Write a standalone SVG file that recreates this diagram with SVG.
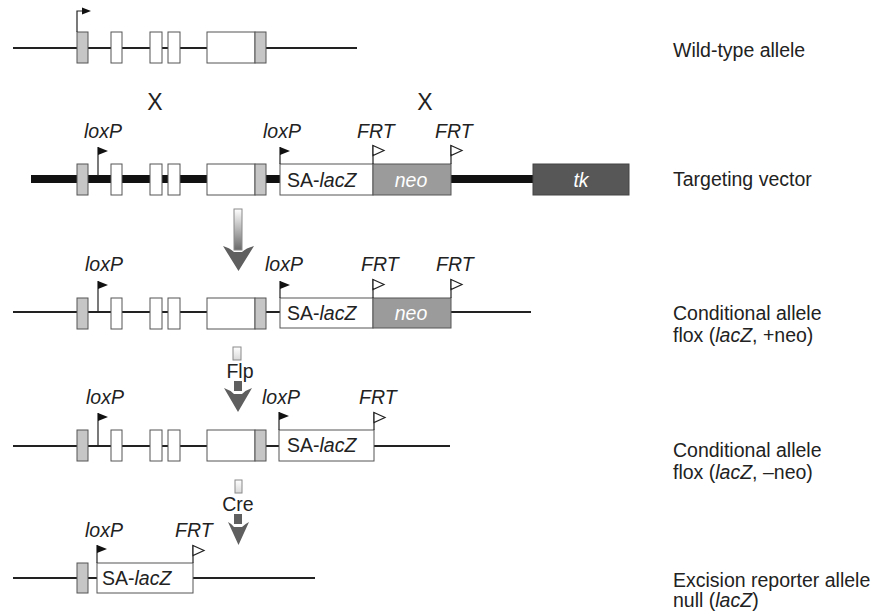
<svg xmlns="http://www.w3.org/2000/svg" width="877" height="614" viewBox="0 0 877 614">
<defs>
<style>
.t{font-family:"Liberation Sans",Arial,sans-serif;font-size:19.5px;fill:#222}
.i{font-style:italic}
.c{text-anchor:middle}
.w{fill:#fff}
.thin{stroke:#222;stroke-width:2;fill:none}
.thick{stroke:#111;stroke-width:8;fill:none}
.ex{fill:#fff;stroke:#555;stroke-width:1}
.gex{fill:#c6c6c6;stroke:#555;stroke-width:1}
.neo{fill:#9b9b9b;stroke:#555;stroke-width:1}
.tk{fill:#575757;stroke:#444;stroke-width:1}
.stem{stroke:#222;stroke-width:1.2;fill:none}
.fl{fill:#111}
.fo{fill:#fff;stroke:#222;stroke-width:1.2}
.ah{fill:#5f5f5f}
.sht{stroke:#8a8a8a;stroke-width:1}
</style>
<linearGradient id="sh" x1="0" y1="0" x2="0" y2="1"><stop offset="0" stop-color="#fff"/><stop offset="1" stop-color="#6a6a6a"/></linearGradient>
<linearGradient id="sh2" x1="0" y1="0" x2="0" y2="1"><stop offset="0" stop-color="#fff"/><stop offset="1" stop-color="#d8d8d8"/></linearGradient>
<g id="exons">
<rect class="gex" x="77" y="0" width="11" height="31"/>
<rect class="ex" x="111" y="0" width="11" height="31"/>
<rect class="ex" x="150" y="0" width="12" height="31"/>
<rect class="ex" x="168" y="0" width="12" height="31"/>
<rect class="ex" x="207" y="0" width="48" height="31"/>
<rect class="gex" x="255" y="0" width="11" height="31"/>
</g>
</defs>
<rect width="877" height="614" fill="#fff"/>

<g id="wildtype">
<path class="thin" d="M13,48 H357"/>
<use href="#exons" y="32"/>
<path class="stem" d="M77,32 V11 H84"/>
<path class="fl" d="M82,7.5 L91,11 L82,14.5 Z"/>
<text class="t" x="673" y="57">Wild-type allele</text>
</g>

<g id="targeting">
<path class="thick" d="M31,179 H533"/>
<use href="#exons" y="164"/>
<rect class="ex" x="280" y="164" width="93" height="31"/>
<rect class="neo" x="373" y="164" width="78" height="31"/>
<rect class="tk" x="533" y="164" width="96" height="31"/>
<path class="stem" d="M98,147 V176 M280,147 V164 M373,145 V164 M451,145 V164"/>
<path class="fl" d="M98,147 L108,151 L98,155 Z M280,147 L290,151 L280,155 Z"/>
<path class="fo" d="M373,145.5 L384,150.5 L373,155.5 Z M451,145.5 L462,150.5 L451,155.5 Z"/>
<text class="t i" x="84" y="138">loxP</text>
<text class="t i" x="263" y="138">loxP</text>
<text class="t i" x="357" y="138">FRT</text>
<text class="t i" x="435" y="138">FRT</text>
<text class="t c" x="155" y="110" style="font-size:23px">X</text>
<text class="t c" x="425" y="110" style="font-size:23px">X</text>
<text class="t" x="287" y="187">SA-<tspan class="i">lacZ</tspan></text>
<text class="t i c w" x="411" y="187">neo</text>
<text class="t i c w" x="581" y="187">tk</text>
<text class="t" x="673" y="186">Targeting vector</text>
</g>

<g id="cond-plusneo">
<path class="thin" d="M13,312 H531"/>
<use href="#exons" y="298"/>
<rect class="ex" x="280" y="298" width="93" height="30"/>
<rect class="neo" x="373" y="298" width="78" height="30"/>
<path class="stem" d="M98,281 V312 M280,281 V298 M373,279 V298 M451,279 V298"/>
<path class="fl" d="M98,281 L108,285 L98,289 Z M280,281 L290,285 L280,289 Z"/>
<path class="fo" d="M373,279.5 L384,284.5 L373,289.5 Z M451,279.5 L462,284.5 L451,289.5 Z"/>
<text class="t i" x="85" y="271">loxP</text>
<text class="t i" x="265" y="271">loxP</text>
<text class="t i" x="361" y="271">FRT</text>
<text class="t i" x="436" y="271">FRT</text>
<text class="t" x="287" y="320">SA-<tspan class="i">lacZ</tspan></text>
<text class="t i c w" x="411" y="320">neo</text>
<text class="t" x="673" y="320">Conditional allele</text>
<text class="t" x="673" y="342">flox (<tspan class="i">lacZ</tspan>, +neo)</text>
</g>

<g id="cond-minusneo">
<path class="thin" d="M13,446 H450"/>
<use href="#exons" y="430"/>
<rect class="ex" x="279" y="430" width="95" height="31"/>
<path class="stem" d="M98,413 V446 M279,412 V430 M374,412 V430"/>
<path class="fl" d="M98,413 L108,417 L98,421 Z M279,412 L289,416 L279,420 Z"/>
<path class="fo" d="M374,412.5 L385,417.5 L374,422.5 Z"/>
<text class="t i" x="86" y="404">loxP</text>
<text class="t i" x="262" y="404">loxP</text>
<text class="t i" x="359" y="404">FRT</text>
<text class="t" x="287" y="452">SA-<tspan class="i">lacZ</tspan></text>
<text class="t" x="673" y="457">Conditional allele</text>
<text class="t" x="673" y="479">flox (<tspan class="i">lacZ</tspan>, –neo)</text>
</g>

<g id="excision">
<path class="thin" d="M13,578 H315"/>
<rect class="gex" x="77" y="563" width="11" height="30"/>
<rect class="ex" x="97" y="563" width="96" height="30"/>
<path class="stem" d="M97,545 V563 M193,545 V563"/>
<path class="fl" d="M97,545 L107,549 L97,553 Z"/>
<path class="fo" d="M193,545.5 L204,550.5 L193,555.5 Z"/>
<text class="t i" x="85" y="537">loxP</text>
<text class="t i" x="175" y="537">FRT</text>
<text class="t" x="102" y="585">SA-<tspan class="i">lacZ</tspan></text>
<text class="t" x="673" y="587">Excision reporter allele</text>
<text class="t" x="673" y="607">null (<tspan class="i">lacZ</tspan>)</text>
</g>

<g id="connectors">
<rect class="sht" x="234" y="209" width="8" height="41" fill="url(#sh)"/>
<path class="ah" d="M223,246 Q230,248 234,252 L242,252 Q246,248 254,246 L238.5,271 Z"/>

<rect class="sht" x="233" y="347" width="8" height="13" fill="url(#sh2)"/>
<text class="t c" x="240" y="378">Flp</text>
<rect class="ah" x="234" y="381" width="8" height="10"/>
<path class="ah" d="M224,388 Q230,390 234,394 L242,394 Q246,390 252,388 L238,412 Z"/>

<rect class="sht" x="235" y="480" width="7" height="13" fill="url(#sh2)"/>
<text class="t c" x="238" y="511">Cre</text>
<rect class="ah" x="234" y="514" width="8" height="10"/>
<path class="ah" d="M228,522 Q232,524 234,527 L242,527 Q245,524 249,522 L238.5,545 Z"/>
</g>
</svg>
